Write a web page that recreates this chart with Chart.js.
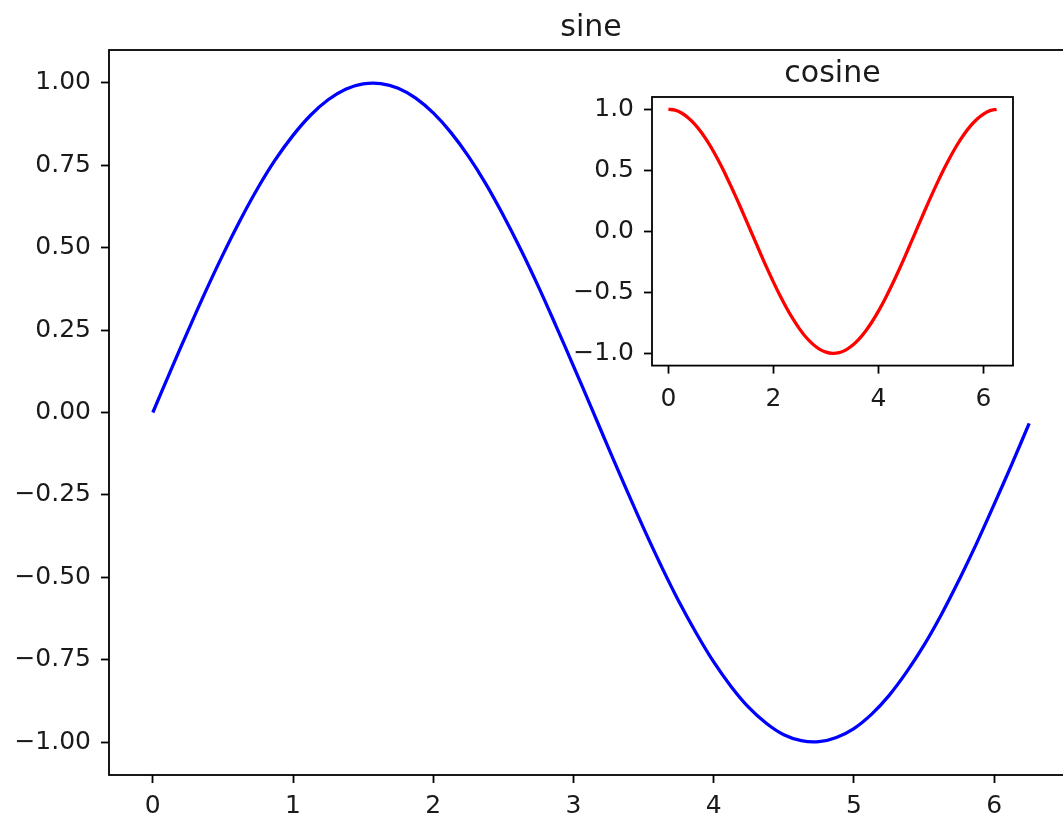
<!DOCTYPE html>
<html>
<head>
<meta charset="utf-8">
<script src="https://cdn.jsdelivr.net/npm/chart.js@4"></script>
<style>
  html, body { margin: 0; padding: 0; overflow: hidden; background: #fff; }
  #sineChart { position: absolute; left: 0; top: 0; }
  #cosineChart { position: absolute; left: 560px; top: 40px; }
</style>
</head>
<body>
<canvas id="sineChart" width="1080" height="815"></canvas>
<canvas id="cosineChart" width="480" height="380"></canvas>
<script>
// values
const xValues = [0, 0.125, 0.25, 0.375, 0.5, 0.625, 0.75, 0.875, 1, 1.125, 1.25, 1.375,
    1.5, 1.625, 1.75, 1.875, 2, 2.125, 2.25, 2.375, 2.5, 2.625, 2.75, 2.875, 3,
    3.125, 3.25, 3.375, 3.5, 3.625, 3.75, 3.875, 4, 4.125, 4.25, 4.375, 4.5, 4.625,
    4.75, 4.875, 5, 5.125, 5.25, 5.375, 5.5, 5.625, 5.75, 5.875, 6, 6.125, 6.25];
const sineValues = [0, 0.125, 0.247, 0.366, 0.479, 0.585, 0.682, 0.768, 0.841, 0.902,
    0.949, 0.981, 0.997, 0.998, 0.984, 0.954, 0.909, 0.850, 0.778, 0.694, 0.598,
    0.494, 0.382, 0.263, 0.141, 0.017, -0.108, -0.231, -0.351, -0.465, -0.572,
    -0.669, -0.757, -0.832, -0.895, -0.943, -0.978, -0.996, -0.999, -0.986, -0.959,
    -0.916, -0.859, -0.788, -0.706, -0.612, -0.508, -0.397, -0.279, -0.158, -0.033];
const cosineValues = [1, 0.992, 0.969, 0.930, 0.878, 0.811, 0.732, 0.641, 0.540, 0.431,
    0.315, 0.195, 0.071, -0.054, -0.178, -0.300, -0.416, -0.526, -0.628, -0.720,
    -0.801, -0.870, -0.924, -0.965, -0.990, -1.0, -0.994, -0.973, -0.936, -0.885,
    -0.821, -0.743, -0.654, -0.554, -0.446, -0.331, -0.211, -0.087, 0.038, 0.162,
    0.284, 0.401, 0.512, 0.615, 0.709, 0.791, 0.861, 0.918, 0.960, 0.988, 0.999];

const sineXTicks = [0, 1, 2, 3, 4, 5, 6];
const sineYTicks = [-1, -0.75, -0.5, -0.25, 0, 0.25, 0.5, 0.75, 1];
const cosineXTicks = [0, 2, 4, 6];
const cosineYTicks = [-1, -0.5, 0, 0.5, 1];

const FONT = "DejaVu Sans";
const TEXT = "#1a1a1a";

function fmt(v, digits) {
    const s = Math.abs(v).toFixed(digits);
    return v < 0 ? "\u2212" + s : s;
}

// white axes background and the four spines
const framePlugin = {
    id: "frame",
    beforeDraw(chart, args, opts) {
        if (!opts.fill) return;
        const a = chart.chartArea;
        const ctx = chart.ctx;
        ctx.save();
        ctx.fillStyle = opts.fill;
        ctx.fillRect(a.left, a.top, a.right - a.left, a.bottom - a.top);
        ctx.restore();
    },
    afterDatasetsDraw(chart) {
        const a = chart.chartArea;
        const ctx = chart.ctx;
        ctx.save();
        ctx.strokeStyle = "#000";
        ctx.lineWidth = 1.8;
        ctx.strokeRect(a.left, a.top, a.right - a.left, a.bottom - a.top);
        ctx.restore();
    }
};

function axis(min, max, ticks, label, fixed, pad) {
    return {
        type: "linear",
        min: min,
        max: max,
        afterBuildTicks: s => { s.ticks = ticks.map(v => ({ value: v })); },
        afterFit: s => {
            if (fixed.width !== undefined) s.width = fixed.width;
            if (fixed.height !== undefined) s.height = fixed.height;
        },
        border: { display: false },
        grid: {
            display: true,
            drawOnChartArea: false,
            drawTicks: true,
            tickLength: 8,
            tickWidth: 1.8,
            tickColor: "#000"
        },
        ticks: {
            autoSkip: false,
            maxRotation: 0,
            padding: pad,
            color: TEXT,
            font: { family: FONT, size: 25 },
            callback: label
        }
    };
}

function makeChart(id, title, values, color, opts) {
    const canvas = document.getElementById(id);
    return new Chart(canvas, {
        type: "line",
        data: {
            datasets: [{
                data: xValues.map((x, i) => ({ x: x, y: values[i] })),
                borderColor: color,
                borderWidth: 3.3,
                pointRadius: 0,
                tension: 0.4,
                fill: false
            }]
        },
        options: {
            responsive: false,
            animation: false,
            devicePixelRatio: 1,
            layout: { padding: opts.padding },
            scales: {
                x: axis(-0.3125, 6.5625, opts.xTicks, v => String(v), { height: opts.xHeight }, opts.xPad),
                y: axis(-1.1, 1.1, opts.yTicks, v => fmt(v, opts.digits), { width: opts.yWidth }, 10)
            },
            plugins: {
                legend: { display: false },
                tooltip: { enabled: false },
                title: {
                    display: true,
                    fullSize: false,
                    text: title,
                    color: TEXT,
                    font: { family: FONT, size: 30, weight: "normal" },
                    padding: opts.titlePad
                },
                frame: { fill: opts.fill }
            }
        },
        plugins: [framePlugin]
    });
}

makeChart("sineChart", "sine", sineValues, "#0000ff", {
    padding: { left: 0, right: 7, top: 0, bottom: 0 },
    xTicks: sineXTicks, yTicks: sineYTicks, digits: 2,
    xHeight: 40, yWidth: 109, xPad: 8,
    titlePad: { top: 10.1, bottom: 3.9 },
    fill: null
});

makeChart("cosineChart", "cosine", cosineValues, "#ff0000", {
    padding: { left: 0, right: 27, top: 0, bottom: 0 },
    xTicks: cosineXTicks, yTicks: cosineYTicks, digits: 1,
    xHeight: 54.4, yWidth: 92, xPad: 11,
    titlePad: { top: 16.5, bottom: 4.5 },
    fill: "#ffffff"
});
</script>
</body>
</html>
